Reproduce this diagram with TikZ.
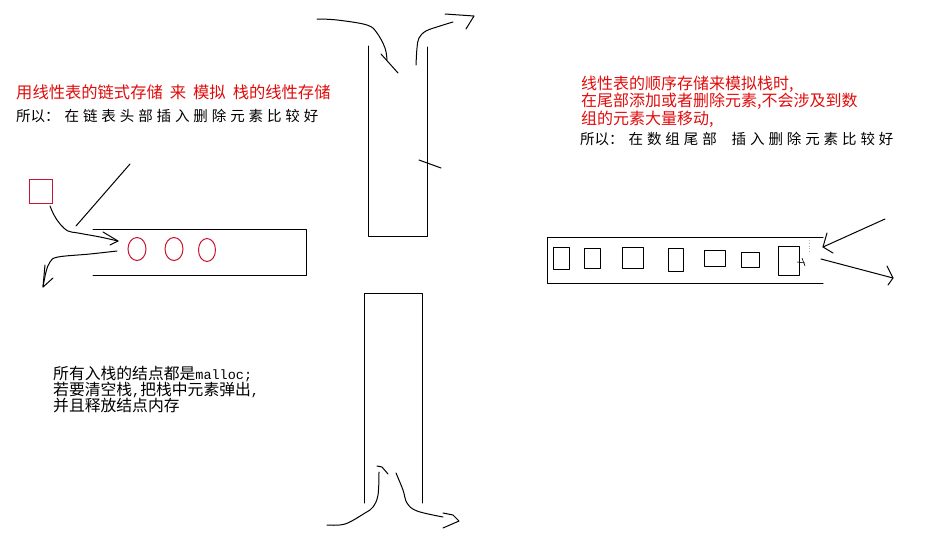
\documentclass[tikz,border=0pt]{standalone}
\usepackage{fontspec}
\newfontfamily\cjk{Noto Sans CJK SC}
\newfontfamily\mono{Liberation Mono}
\newdimen\trkd
\def\trkstop{\trkstop}
\def\trk#1{\trkloop#1\trkstop}
\def\trkloop#1{\ifx#1\trkstop\else#1\kern\trkd\expandafter\trkloop\fi}
\definecolor{txtred}{RGB}{225,12,12}
\definecolor{shpred}{RGB}{200,20,50}
\tikzset{
  pen/.style={line width=1pt, black, line cap=round, line join=round},
  redpen/.style={line width=1pt, shpred},
  lbl/.style={inner sep=0pt, anchor=base west, align=left},
}
\begin{document}
\begin{tikzpicture}[x=1pt,y=-1pt]
\useasboundingbox[fill=white] (0,0) rectangle (946,546);

% ---------- texts ----------
\node[lbl, text=txtred, font=\cjk\fontsize{16.3}{16.3}\selectfont] (t1) at (16,98)
  {用线性表的链式存储\kern7pt 来\kern7pt 模拟\kern7pt 栈的线性存储};
\node[lbl, font=\cjk\fontsize{14.5}{14.5}\selectfont] (t2) at (16,121)
  {\trkd=3.9pt 所以：\kern5pt\trk{在链表头部插入删除元素比较好}};

% multi-line nodes: base anchor is the baseline of the last line
\node[lbl, text=txtred, font=\cjk\fontsize{16}{17.5}\selectfont] (t3) at (581,124)
  {线性表的顺序存储来模拟栈时,\\在尾部添加或者删除元素,不会涉及到数\\组的元素大量移动,};
\node[lbl, font=\cjk\fontsize{14.5}{14.5}\selectfont] (t4) at (580,144)
  {\trkd=3.9pt 所以：\kern5pt\trk{在数组尾部}\kern11pt\trk{插入删除元素比较好}};

\node[lbl, font=\cjk\fontsize{15.8}{16}\selectfont] (t5) at (53,411)
  {所有入栈的结点都是{\mono\fontsize{13.5}{16}\selectfont malloc;}\\
   若要清空栈{\mono\fontsize{13.5}{16}\selectfont,}把栈中元素弹出{\mono\fontsize{13.5}{16}\selectfont,}\\
   并且释放结点内存};

% ---------- top stack ----------
\draw[pen] (368,46) -- (368,236) -- (427,236) -- (427,47);
\draw[pen] plot[smooth, tension=0.6] coordinates {(317,19) (337,20) (367,25) (377,33) (385,48) (387,60)};
\draw[pen] (381,54) -- (398,73);
\draw[pen] plot[smooth, tension=0.6] coordinates {(416,65) (417,48) (419,38) (426,31) (440,26) (453,22)};
\draw[pen] (445,14) -- (474,16) -- (466,29);
\draw[pen] (419,160) -- (441,168);

% ---------- bottom stack ----------
\draw[pen] (364,503) -- (364,293) -- (422,293) -- (422,503);
\draw[pen] plot[smooth, tension=0.6] coordinates {(327,525) (345,524) (365,513) (373,507) (378,495) (379,472)};
\draw[pen] (377,466) -- (382,467) -- (388,474);
\draw[pen] plot[smooth, tension=0.6] coordinates {(396,473) (403,490) (407,503) (417,511) (443,517)};
\draw[pen] (443,513) -- (453,515) -- (459,521) -- (443,528);

% ---------- left (linked) stack ----------
\draw[pen] (93,229) -- (306,229) -- (306,275) -- (93,275);
\draw[redpen] (29,179) rectangle (52,203);
\draw[redpen] (137,249) ellipse (9 and 11.5);
\draw[redpen] (174,249) ellipse (9 and 11.5);
\draw[redpen] (207,250) ellipse (8.5 and 11.5);
\draw[pen] plot[smooth, tension=0.6] coordinates {(50,206) (54,215) (60,224) (68,231) (78,233) (100,237) (118,241)};
\draw[pen] (103,232) -- (118,241) -- (110,245);
\draw[pen] (130,164) -- (76,226);
\draw[pen] plot[smooth, tension=0.6] coordinates {(117,251) (90,254) (58,257) (50,262) (46,272) (43,287)};
\draw[pen] (45,265) -- (43,287) -- (53,278);

% ---------- right (array) stack ----------
\draw[pen] (823,237) -- (547,237) -- (547,283) -- (823,283);
\draw[pen] (553,247) rectangle (569,269);
\draw[pen] (584,248) rectangle (600,268);
\draw[pen] (622,247) rectangle (643,268);
\draw[pen] (668,248) rectangle (683,271);
\draw[pen] (704,250) rectangle (725,266);
\draw[pen] (741,252) rectangle (759,267);
\draw[pen] (778,246) rectangle (799,275);
\draw[line width=0.6pt] (797,262) -- (805,263);
\draw[line width=0.6pt] (802,258) -- (805,266);
\draw[gray!60, dotted, line width=0.8pt] (809,240) -- (809,254);
\draw[pen] (885,219) -- (823,247);
\draw[pen] (827,233) -- (823,247) -- (833,253);
\draw[pen] (821,259) -- (893,278);
\draw[pen] (887,266) -- (893,278) -- (888,285);
\end{tikzpicture}
\end{document}
